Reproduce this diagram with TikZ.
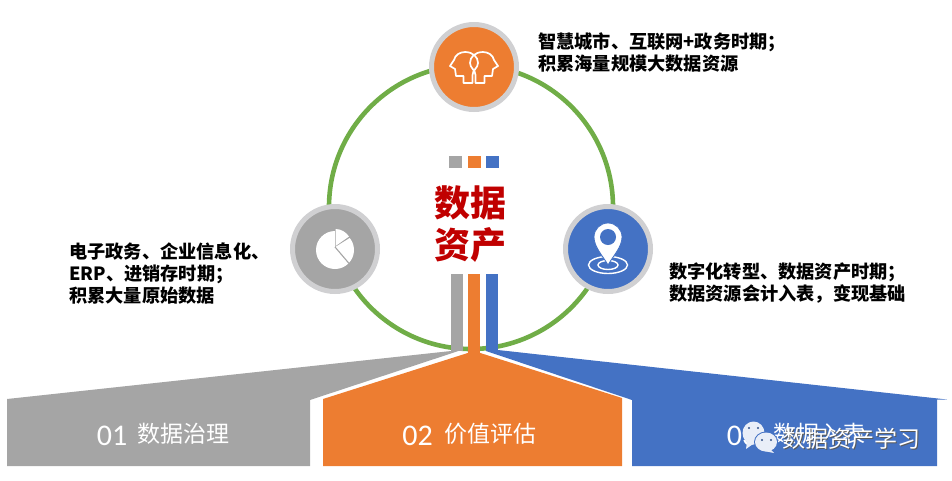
\documentclass[tikz,border=0pt]{standalone}
\usepackage{fontspec}
\setmainfont{Noto Sans CJK SC}
\newfontfamily\numfont{Carlito}
\definecolor{cgray}{HTML}{A5A5A5}
\definecolor{corange}{HTML}{ED7D31}
\definecolor{cblue}{HTML}{4472C4}
\definecolor{cgreen}{HTML}{70AD47}
\definecolor{cring}{HTML}{D0D0D2}
\definecolor{cred}{HTML}{C00000}
\definecolor{cbub}{HTML}{E9EEF8}
\tikzset{
  hub/.style={circle,draw=cring,line width=5pt,minimum size=85pt,inner sep=0pt},
  notetxt/.style={anchor=west,align=left,inner sep=0pt,font=\fontsize{18.2}{22}\selectfont\bfseries,text=black},
  titletxt/.style={inner sep=0pt,text=cred,font=\fontsize{36}{42}\selectfont\bfseries},
  captxt/.style={inner sep=0pt,text=white,font=\fontsize{23}{26}\selectfont},
  numtxt/.style={inner sep=0pt,text=white,font=\numfont\fontsize{30}{32}\selectfont},
  iconline/.style={draw=white,line width=1.7pt,line join=round},
  bub/.style={fill=cbub,draw=none}
}
\begin{document}
\begin{tikzpicture}[x=1pt,y=-1pt]
\useasboundingbox (0,0) rectangle (952,480);
% ring
\coordinate (c) at (471,207);
\draw[cgreen,line width=4.6pt] (c) circle[radius=142];
% bottom bands
\fill[cgray] (7,399) -- (451,351) -- (463,349.5) -- (310,400) -- (310,466) -- (7,466) -- cycle;
\fill[cblue] (486,351) -- (498,350) -- (947,399.5) -- (937,399.5) -- (937,466) -- (632,466) -- (632,400) -- cycle;
\fill[corange] (474,351) -- (622,398) -- (622,466) -- (323,466) -- (323,399) -- cycle;
% long bars
\fill[cgray] (451,274) rectangle (463,351);
\fill[corange] (468,274) rectangle (480,353);
\fill[cblue] (486,274) rectangle (498,351);
% small squares
\fill[cgray] (449,156) rectangle (462,168);
\fill[corange] (468,156) rectangle (481,168);
\fill[cblue] (486,156) rectangle (499,168);
% hubs
\node[hub,fill=corange] (top) at (474,67) {};
\node[hub,fill=cgray] (left) at (335,249) {};
\node[hub,fill=cblue] (right) at (608,249) {};
% heads icon
\begin{scope}[shift={(top.center)}]
\foreach \s in {1,-1}{
\draw[iconline,xscale=\s] (-1.5,16) -- (-10.5,16) -- (-10.5,9) -- (-18,9) -- (-19,2) -- (-24,-1)
  -- (-20,-7) .. controls (-19,-12) and (-14,-15) .. (-9,-15)
  .. controls (-1,-15) and (4,-10) .. (4,-4)
  .. controls (4,1) and (-1.5,3) .. (-1.5,8) -- cycle;
}
\end{scope}
% pie icon
\begin{scope}[shift={(left.center)}]
\fill[white] (0,1) circle[radius=19];
\fill[cgray] (0,-2) -- (0,-22) -- (16,-22) -- (16,-12) -- cycle;
\fill[white] (0.6,-3) -- (0.6,-20) .. controls (6,-20) and (11,-17) .. (14,-12.5) -- cycle;
\draw[cgray,line width=1.1pt] (0,-2) -- (14.5,15);
\end{scope}
% pin icon
\begin{scope}[shift={(right.center)}]
\draw[white,line width=1.4pt] (0,16) ellipse[x radius=19.5,y radius=8.5];
\draw[white,line width=1.4pt] (0,16) ellipse[x radius=10,y radius=4.5];
\fill[white,draw=cblue,line width=.8pt] (0,16) .. controls (-5,7) and (-14,-2) .. (-14,-12)
  arc[start angle=180,end angle=0,radius=14,y radius=-14]
  .. controls (14,-2) and (5,7) .. (0,16) -- cycle;
\fill[cblue] (0,-12) circle[radius=8];
\end{scope}
% title
\node[titletxt] (t1) at (470,203) {数据};
\node[titletxt] (t2) at (470,245) {资产};
% notes
\node[notetxt] (n1) at (538,53) {智慧城市、互联网+政务时期；\\积累海量规模大数据资源};
\node[notetxt] (n2) at (69,274) {电子政务、企业信息化、\\ERP、进销存时期；\\积累大量原始数据};
\node[notetxt] (n3) at (669,283) {数字化转型、数据资产时期；\\数据资源会计入表，变现基础};
% captions
\node[numtxt] (a0) at (112,436) {01};
\node[captxt] (a1) at (183.5,434) {数据治理};
\node[numtxt] (b0) at (417.5,436) {02};
\node[captxt] (b1) at (490,434) {价值评估};
\node[numtxt] (c0) at (742,436) {03};
\node[captxt] (c1) at (819,434) {数据入表};
% watermark
\fill[bub] (753.5,433) ellipse[x radius=11,y radius=11.5];
\fill[bub] (747,442) -- (746,449) -- (753,444) -- cycle;
\fill[cblue] (766,442) ellipse[x radius=12,y radius=10.5];
\fill[bub] (766,442) ellipse[x radius=11,y radius=9.5];
\fill[bub] (770,449) -- (774,453) -- (764,451) -- cycle;
\fill[cblue!70!black] (749,428) circle[radius=1.2] (758,428) circle[radius=1.2] (762,440) circle[radius=1.2] (771,440) circle[radius=1.2];
\node[captxt,text=black!65] (w0) at (852.5,439.5) {数据资产学习};
\node[captxt] (w1) at (851.5,438.5) {数据资产学习};
\end{tikzpicture}
\end{document}
